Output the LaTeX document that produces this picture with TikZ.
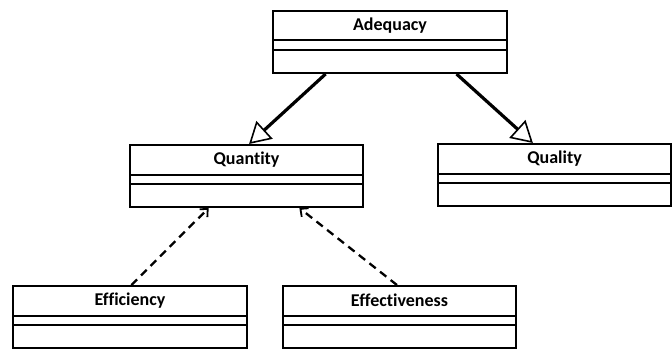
\documentclass[tikz,border=0pt]{standalone}
\usepackage{fontspec}
\setmainfont{Carlito}[Ligatures=NoCommon]
\usetikzlibrary{arrows.meta,calc}
\tikzset{
  classbox/.style={draw=black, line width=2pt, fill=white, anchor=north west,
    minimum width=233pt, minimum height=62pt, inner sep=0pt},
  sepline/.style={draw=black, line width=2pt},
  lbl/.style={font=\fontsize{18}{20}\selectfont\bfseries, inner sep=0pt},
  gen/.style={draw=black, line width=3.2pt,
    -{Triangle[fill=white, length=21pt, width=24pt, line width=1.6pt]}},
  dep/.style={draw=black, line width=2.3pt, dash pattern=on 8pt off 5.5pt,
    -{Straight Barb[length=6pt, width=11pt, line width=1.8pt]}}
}
\newcommand{\umlcls}[5]{%
  \node[classbox, minimum width=#4] (#1) at (#2,-#3) {};
  \node[lbl] (#1T) at ($(#1.north)+(0pt,-15.5pt)$) {#5};
  \draw[sepline] ($(#1.north west)+(0pt,-30.5pt)$) -- ($(#1.north east)+(0pt,-30.5pt)$);
  \draw[sepline] ($(#1.north west)+(0pt,-40pt)$) -- ($(#1.north east)+(0pt,-40pt)$);
}
\begin{document}
\begin{tikzpicture}[x=1pt,y=1pt]
\useasboundingbox (0,0) rectangle (672,-350);
\umlcls{adeq}{272}{10}{234pt}{Adequacy}
\umlcls{quan}{129}{144}{233pt}{Quantity}
\umlcls{qual}{437}{143}{233pt}{Quality}
\umlcls{effi}{12}{285}{234pt}{Efficiency}
\umlcls{effe}{282}{285}{233pt}{Effectiveness}
\draw[gen] ($(adeq.south west)!0.227!(adeq.south east)$) -- ($(quan.north west)!0.511!(quan.north east)$);
\draw[gen] ($(adeq.south west)!0.782!(adeq.south east)$) -- ($(qual.north west)!0.408!(qual.north east)$);
\draw[dep] ($(effi.north west)!0.506!(effi.north east)$) -- ($(quan.south west)!0.339!(quan.south east)$);
\draw[dep] ($(effe.north west)!0.489!(effe.north east)$) -- ($(quan.south west)!0.725!(quan.south east)$);
\end{tikzpicture}
\end{document}
